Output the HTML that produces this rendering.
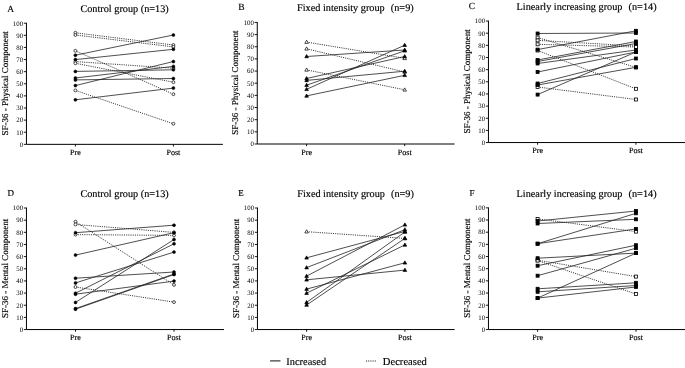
<!DOCTYPE html>
<html><head><meta charset="utf-8"><style>
html,body{margin:0;padding:0;background:#fff;width:685px;height:368px;overflow:hidden}
svg{display:block;filter:grayscale(1)}
text{font-family:"Liberation Serif", serif;fill:#000;text-rendering:geometricPrecision;stroke:#000;stroke-width:0.15px}
</style></head><body>
<svg width="685" height="368" viewBox="0 0 685 368">
<rect width="685" height="368" fill="#fff"/>
<text x="7.2" y="11.7" font-size="9.5">A</text>
<text x="124.55" y="12.1" font-size="10.25" text-anchor="middle" xml:space="preserve">Control group (n=13)</text>
<text x="0" y="0" font-size="9" text-anchor="middle" transform="translate(7.65,83.27) rotate(-90)">SF-36 - Physical Component</text>
<path d="M26.45 22.8V144.35H222.9" fill="none" stroke="#000" stroke-width="1"/>
<text x="23.05" y="146.65" font-size="6.8" text-anchor="end" style="stroke:none">0</text>
<text x="23.05" y="134.53" font-size="6.8" text-anchor="end" style="stroke:none">10</text>
<text x="23.05" y="122.42" font-size="6.8" text-anchor="end" style="stroke:none">20</text>
<text x="23.05" y="110.3" font-size="6.8" text-anchor="end" style="stroke:none">30</text>
<text x="23.05" y="98.19" font-size="6.8" text-anchor="end" style="stroke:none">40</text>
<text x="23.05" y="86.07" font-size="6.8" text-anchor="end" style="stroke:none">50</text>
<text x="23.05" y="73.96" font-size="6.8" text-anchor="end" style="stroke:none">60</text>
<text x="23.05" y="61.84" font-size="6.8" text-anchor="end" style="stroke:none">70</text>
<text x="23.05" y="49.73" font-size="6.8" text-anchor="end" style="stroke:none">80</text>
<text x="23.05" y="37.61" font-size="6.8" text-anchor="end" style="stroke:none">90</text>
<text x="23.05" y="25.5" font-size="6.8" text-anchor="end" style="stroke:none">100</text>
<path d="M23.85 144.35H26.45 M23.85 132.23H26.45 M23.85 120.12H26.45 M23.85 108H26.45 M23.85 95.89H26.45 M23.85 83.77H26.45 M23.85 71.66H26.45 M23.85 59.55H26.45 M23.85 47.43H26.45 M23.85 35.31H26.45 M23.85 23.2H26.45 M75.4 144.35V146.55 M173.4 144.35V146.55" fill="none" stroke="#000" stroke-width="0.9"/>
<text x="75.4" y="155.15" font-size="8.1" text-anchor="middle">Pre</text>
<text x="173.4" y="155.15" font-size="8.1" text-anchor="middle">Post</text>
<path d="M75.4 32.8L173.4 45 M75.4 35L173.4 46.9 M75.4 50.8L173.4 94.2 M75.4 61.6L173.4 68.2 M75.4 63.3L173.4 82.2 M75.4 90.4L173.4 123.8" fill="none" stroke="#222" stroke-width="0.9" stroke-dasharray="1.1 1.1"/>
<path d="M75.4 55.2L173.4 35 M75.4 59.6L173.4 49.3 M75.4 71.4L173.4 69.8 M75.4 78L173.4 66.4 M75.4 79.9L173.4 78.5 M75.4 85.6L173.4 61.5 M75.4 99.8L173.4 88.1" fill="none" stroke="#222" stroke-width="0.8"/>
<circle cx="75.4" cy="32.8" r="1.45" fill="#fff" stroke="#000" stroke-width="0.7"/>
<circle cx="173.4" cy="45" r="1.45" fill="#fff" stroke="#000" stroke-width="0.7"/>
<circle cx="75.4" cy="35" r="1.45" fill="#fff" stroke="#000" stroke-width="0.7"/>
<circle cx="173.4" cy="46.9" r="1.45" fill="#fff" stroke="#000" stroke-width="0.7"/>
<circle cx="75.4" cy="50.8" r="1.45" fill="#fff" stroke="#000" stroke-width="0.7"/>
<circle cx="173.4" cy="94.2" r="1.45" fill="#fff" stroke="#000" stroke-width="0.7"/>
<circle cx="75.4" cy="61.6" r="1.45" fill="#fff" stroke="#000" stroke-width="0.7"/>
<circle cx="173.4" cy="68.2" r="1.45" fill="#fff" stroke="#000" stroke-width="0.7"/>
<circle cx="75.4" cy="63.3" r="1.45" fill="#fff" stroke="#000" stroke-width="0.7"/>
<circle cx="173.4" cy="82.2" r="1.45" fill="#fff" stroke="#000" stroke-width="0.7"/>
<circle cx="75.4" cy="90.4" r="1.45" fill="#fff" stroke="#000" stroke-width="0.7"/>
<circle cx="173.4" cy="123.8" r="1.45" fill="#fff" stroke="#000" stroke-width="0.7"/>
<circle cx="75.4" cy="55.2" r="1.5" fill="#000" stroke="#000" stroke-width="0.5"/>
<circle cx="173.4" cy="35" r="1.5" fill="#000" stroke="#000" stroke-width="0.5"/>
<circle cx="75.4" cy="59.6" r="1.5" fill="#000" stroke="#000" stroke-width="0.5"/>
<circle cx="173.4" cy="49.3" r="1.5" fill="#000" stroke="#000" stroke-width="0.5"/>
<circle cx="75.4" cy="71.4" r="1.5" fill="#000" stroke="#000" stroke-width="0.5"/>
<circle cx="173.4" cy="69.8" r="1.5" fill="#000" stroke="#000" stroke-width="0.5"/>
<circle cx="75.4" cy="78" r="1.5" fill="#000" stroke="#000" stroke-width="0.5"/>
<circle cx="173.4" cy="66.4" r="1.5" fill="#000" stroke="#000" stroke-width="0.5"/>
<circle cx="75.4" cy="79.9" r="1.5" fill="#000" stroke="#000" stroke-width="0.5"/>
<circle cx="173.4" cy="78.5" r="1.5" fill="#000" stroke="#000" stroke-width="0.5"/>
<circle cx="75.4" cy="85.6" r="1.5" fill="#000" stroke="#000" stroke-width="0.5"/>
<circle cx="173.4" cy="61.5" r="1.5" fill="#000" stroke="#000" stroke-width="0.5"/>
<circle cx="75.4" cy="99.8" r="1.5" fill="#000" stroke="#000" stroke-width="0.5"/>
<circle cx="173.4" cy="88.1" r="1.5" fill="#000" stroke="#000" stroke-width="0.5"/>
<text x="238.3" y="10.2" font-size="9.5">B</text>
<text x="355.35" y="10.5" font-size="10.25" text-anchor="middle" xml:space="preserve">Fixed intensity group<tspan dx="1">  (n=9)</tspan></text>
<text x="0" y="0" font-size="9" text-anchor="middle" transform="translate(238.45,82.72) rotate(-90)">SF-36 - Physical Component</text>
<path d="M257.25 22.05V144H454.6" fill="none" stroke="#000" stroke-width="1"/>
<text x="253.85" y="146.3" font-size="6.8" text-anchor="end" style="stroke:none">0</text>
<text x="253.85" y="134.15" font-size="6.8" text-anchor="end" style="stroke:none">10</text>
<text x="253.85" y="121.99" font-size="6.8" text-anchor="end" style="stroke:none">20</text>
<text x="253.85" y="109.83" font-size="6.8" text-anchor="end" style="stroke:none">30</text>
<text x="253.85" y="97.68" font-size="6.8" text-anchor="end" style="stroke:none">40</text>
<text x="253.85" y="85.52" font-size="6.8" text-anchor="end" style="stroke:none">50</text>
<text x="253.85" y="73.37" font-size="6.8" text-anchor="end" style="stroke:none">60</text>
<text x="253.85" y="61.21" font-size="6.8" text-anchor="end" style="stroke:none">70</text>
<text x="253.85" y="49.06" font-size="6.8" text-anchor="end" style="stroke:none">80</text>
<text x="253.85" y="36.9" font-size="6.8" text-anchor="end" style="stroke:none">90</text>
<text x="253.85" y="24.75" font-size="6.8" text-anchor="end" style="stroke:none">100</text>
<path d="M254.65 144H257.25 M254.65 131.84H257.25 M254.65 119.69H257.25 M254.65 107.53H257.25 M254.65 95.38H257.25 M254.65 83.22H257.25 M254.65 71.07H257.25 M254.65 58.91H257.25 M254.65 46.76H257.25 M254.65 34.6H257.25 M254.65 22.45H257.25 M306.6 144V146.2 M404.7 144V146.2" fill="none" stroke="#000" stroke-width="0.9"/>
<text x="306.6" y="154.8" font-size="8.1" text-anchor="middle">Pre</text>
<text x="404.7" y="154.8" font-size="8.1" text-anchor="middle">Post</text>
<path d="M306.6 42.1L404.7 58.3 M306.6 48.8L404.7 72 M306.6 69.9L404.7 89.8" fill="none" stroke="#222" stroke-width="0.9" stroke-dasharray="1.1 1.1"/>
<path d="M306.6 56.5L404.7 50 M306.6 78.5L404.7 56.5 M306.6 80.4L404.7 71.2 M306.6 85.2L404.7 50.8 M306.6 89.3L404.7 45.2 M306.6 95.9L404.7 75.3" fill="none" stroke="#222" stroke-width="0.8"/>
<polygon points="306.6,40.18 304.8,43.38 308.4,43.38" fill="#fff" stroke="#000" stroke-width="0.7"/>
<polygon points="404.7,56.38 402.9,59.58 406.5,59.58" fill="#fff" stroke="#000" stroke-width="0.7"/>
<polygon points="306.6,46.88 304.8,50.08 308.4,50.08" fill="#fff" stroke="#000" stroke-width="0.7"/>
<polygon points="404.7,70.08 402.9,73.28 406.5,73.28" fill="#fff" stroke="#000" stroke-width="0.7"/>
<polygon points="306.6,67.98 304.8,71.18 308.4,71.18" fill="#fff" stroke="#000" stroke-width="0.7"/>
<polygon points="404.7,87.88 402.9,91.08 406.5,91.08" fill="#fff" stroke="#000" stroke-width="0.7"/>
<polygon points="306.6,54.58 304.8,57.78 308.4,57.78" fill="#000" stroke="#000" stroke-width="0.7"/>
<polygon points="404.7,48.08 402.9,51.28 406.5,51.28" fill="#000" stroke="#000" stroke-width="0.7"/>
<polygon points="306.6,76.58 304.8,79.78 308.4,79.78" fill="#000" stroke="#000" stroke-width="0.7"/>
<polygon points="404.7,54.58 402.9,57.78 406.5,57.78" fill="#000" stroke="#000" stroke-width="0.7"/>
<polygon points="306.6,78.48 304.8,81.68 308.4,81.68" fill="#000" stroke="#000" stroke-width="0.7"/>
<polygon points="404.7,69.28 402.9,72.48 406.5,72.48" fill="#000" stroke="#000" stroke-width="0.7"/>
<polygon points="306.6,83.28 304.8,86.48 308.4,86.48" fill="#000" stroke="#000" stroke-width="0.7"/>
<polygon points="404.7,48.88 402.9,52.08 406.5,52.08" fill="#000" stroke="#000" stroke-width="0.7"/>
<polygon points="306.6,87.38 304.8,90.58 308.4,90.58" fill="#000" stroke="#000" stroke-width="0.7"/>
<polygon points="404.7,43.28 402.9,46.48 406.5,46.48" fill="#000" stroke="#000" stroke-width="0.7"/>
<polygon points="306.6,93.98 304.8,97.18 308.4,97.18" fill="#000" stroke="#000" stroke-width="0.7"/>
<polygon points="404.7,73.38 402.9,76.58 406.5,76.58" fill="#000" stroke="#000" stroke-width="0.7"/>
<text x="468.8" y="9" font-size="9.5">C</text>
<text x="586.55" y="9.9" font-size="10.25" text-anchor="middle" xml:space="preserve">Linearly increasing group<tspan dx="1">  (n=14)</tspan></text>
<text x="0" y="0" font-size="9" text-anchor="middle" transform="translate(469.65,81.3) rotate(-90)">SF-36 - Physical Component</text>
<path d="M488.45 20.65V142.55H686" fill="none" stroke="#000" stroke-width="1"/>
<text x="485.05" y="144.85" font-size="6.8" text-anchor="end" style="stroke:none">0</text>
<text x="485.05" y="132.7" font-size="6.8" text-anchor="end" style="stroke:none">10</text>
<text x="485.05" y="120.55" font-size="6.8" text-anchor="end" style="stroke:none">20</text>
<text x="485.05" y="108.4" font-size="6.8" text-anchor="end" style="stroke:none">30</text>
<text x="485.05" y="96.25" font-size="6.8" text-anchor="end" style="stroke:none">40</text>
<text x="485.05" y="84.1" font-size="6.8" text-anchor="end" style="stroke:none">50</text>
<text x="485.05" y="71.95" font-size="6.8" text-anchor="end" style="stroke:none">60</text>
<text x="485.05" y="59.8" font-size="6.8" text-anchor="end" style="stroke:none">70</text>
<text x="485.05" y="47.65" font-size="6.8" text-anchor="end" style="stroke:none">80</text>
<text x="485.05" y="35.5" font-size="6.8" text-anchor="end" style="stroke:none">90</text>
<text x="485.05" y="23.35" font-size="6.8" text-anchor="end" style="stroke:none">100</text>
<path d="M485.85 142.55H488.45 M485.85 130.4H488.45 M485.85 118.25H488.45 M485.85 106.1H488.45 M485.85 93.95H488.45 M485.85 81.8H488.45 M485.85 69.65H488.45 M485.85 57.5H488.45 M485.85 45.35H488.45 M485.85 33.2H488.45 M485.85 21.05H488.45 M537.6 142.55V144.75 M635.9 142.55V144.75" fill="none" stroke="#000" stroke-width="0.9"/>
<text x="537.6" y="153.35" font-size="8.1" text-anchor="middle">Pre</text>
<text x="635.9" y="153.35" font-size="8.1" text-anchor="middle">Post</text>
<path d="M537.6 37.5L635.9 67.4 M537.6 40.4L635.9 46 M537.6 44.3L635.9 47 M537.6 50.5L635.9 88.8 M537.6 87L635.9 99.5" fill="none" stroke="#222" stroke-width="0.9" stroke-dasharray="1.1 1.1"/>
<path d="M537.6 33.5L635.9 33 M537.6 49.6L635.9 30.8 M537.6 60L635.9 41.5 M537.6 61.5L635.9 43.5 M537.6 63.5L635.9 50 M537.6 72L635.9 52 M537.6 83.5L635.9 58.5 M537.6 85L635.9 67.3 M537.6 94.6L635.9 52" fill="none" stroke="#222" stroke-width="0.8"/>
<rect x="536.1" y="36" width="3" height="3" fill="#fff" stroke="#000" stroke-width="0.8"/>
<rect x="634.4" y="65.9" width="3" height="3" fill="#fff" stroke="#000" stroke-width="0.8"/>
<rect x="536.1" y="38.9" width="3" height="3" fill="#fff" stroke="#000" stroke-width="0.8"/>
<rect x="634.4" y="44.5" width="3" height="3" fill="#fff" stroke="#000" stroke-width="0.8"/>
<rect x="536.1" y="42.8" width="3" height="3" fill="#fff" stroke="#000" stroke-width="0.8"/>
<rect x="634.4" y="45.5" width="3" height="3" fill="#fff" stroke="#000" stroke-width="0.8"/>
<rect x="536.1" y="49" width="3" height="3" fill="#fff" stroke="#000" stroke-width="0.8"/>
<rect x="634.4" y="87.3" width="3" height="3" fill="#fff" stroke="#000" stroke-width="0.8"/>
<rect x="536.1" y="85.5" width="3" height="3" fill="#fff" stroke="#000" stroke-width="0.8"/>
<rect x="634.4" y="98" width="3" height="3" fill="#fff" stroke="#000" stroke-width="0.8"/>
<rect x="536.1" y="32" width="3" height="3" fill="#000" stroke="#000" stroke-width="0.8"/>
<rect x="634.4" y="31.5" width="3" height="3" fill="#000" stroke="#000" stroke-width="0.8"/>
<rect x="536.1" y="48.1" width="3" height="3" fill="#000" stroke="#000" stroke-width="0.8"/>
<rect x="634.4" y="29.3" width="3" height="3" fill="#000" stroke="#000" stroke-width="0.8"/>
<rect x="536.1" y="58.5" width="3" height="3" fill="#000" stroke="#000" stroke-width="0.8"/>
<rect x="634.4" y="40" width="3" height="3" fill="#000" stroke="#000" stroke-width="0.8"/>
<rect x="536.1" y="60" width="3" height="3" fill="#000" stroke="#000" stroke-width="0.8"/>
<rect x="634.4" y="42" width="3" height="3" fill="#000" stroke="#000" stroke-width="0.8"/>
<rect x="536.1" y="62" width="3" height="3" fill="#000" stroke="#000" stroke-width="0.8"/>
<rect x="634.4" y="48.5" width="3" height="3" fill="#000" stroke="#000" stroke-width="0.8"/>
<rect x="536.1" y="70.5" width="3" height="3" fill="#000" stroke="#000" stroke-width="0.8"/>
<rect x="634.4" y="50.5" width="3" height="3" fill="#000" stroke="#000" stroke-width="0.8"/>
<rect x="536.1" y="82" width="3" height="3" fill="#000" stroke="#000" stroke-width="0.8"/>
<rect x="634.4" y="57" width="3" height="3" fill="#000" stroke="#000" stroke-width="0.8"/>
<rect x="536.1" y="83.5" width="3" height="3" fill="#000" stroke="#000" stroke-width="0.8"/>
<rect x="634.4" y="65.8" width="3" height="3" fill="#000" stroke="#000" stroke-width="0.8"/>
<rect x="536.1" y="93.1" width="3" height="3" fill="#000" stroke="#000" stroke-width="0.8"/>
<rect x="634.4" y="50.5" width="3" height="3" fill="#000" stroke="#000" stroke-width="0.8"/>
<text x="7.4" y="195.6" font-size="9">D</text>
<text x="124.55" y="196.9" font-size="10.25" text-anchor="middle" xml:space="preserve">Control group (n=13)</text>
<text x="0" y="0" font-size="9" text-anchor="middle" transform="translate(7.65,268.27) rotate(-90)">SF-36 - Mental Component</text>
<path d="M26.45 207.6V329.55H224" fill="none" stroke="#000" stroke-width="1"/>
<text x="23.05" y="331.85" font-size="6.8" text-anchor="end" style="stroke:none">0</text>
<text x="23.05" y="319.69" font-size="6.8" text-anchor="end" style="stroke:none">10</text>
<text x="23.05" y="307.54" font-size="6.8" text-anchor="end" style="stroke:none">20</text>
<text x="23.05" y="295.39" font-size="6.8" text-anchor="end" style="stroke:none">30</text>
<text x="23.05" y="283.23" font-size="6.8" text-anchor="end" style="stroke:none">40</text>
<text x="23.05" y="271.08" font-size="6.8" text-anchor="end" style="stroke:none">50</text>
<text x="23.05" y="258.92" font-size="6.8" text-anchor="end" style="stroke:none">60</text>
<text x="23.05" y="246.77" font-size="6.8" text-anchor="end" style="stroke:none">70</text>
<text x="23.05" y="234.61" font-size="6.8" text-anchor="end" style="stroke:none">80</text>
<text x="23.05" y="222.46" font-size="6.8" text-anchor="end" style="stroke:none">90</text>
<text x="23.05" y="210.3" font-size="6.8" text-anchor="end" style="stroke:none">100</text>
<path d="M23.85 329.55H26.45 M23.85 317.39H26.45 M23.85 305.24H26.45 M23.85 293.09H26.45 M23.85 280.93H26.45 M23.85 268.78H26.45 M23.85 256.62H26.45 M23.85 244.47H26.45 M23.85 232.31H26.45 M23.85 220.16H26.45 M23.85 208H26.45 M75.5 329.55V331.75 M174 329.55V331.75" fill="none" stroke="#000" stroke-width="0.9"/>
<text x="75.5" y="340.35" font-size="8.1" text-anchor="middle">Pre</text>
<text x="174" y="340.35" font-size="8.1" text-anchor="middle">Post</text>
<path d="M75.5 221.7L174 284.9 M75.5 224.5L174 232.4 M75.5 234.6L174 235.4 M75.5 287L174 302.1" fill="none" stroke="#222" stroke-width="0.9" stroke-dasharray="1.1 1.1"/>
<path d="M75.5 232.7L174 225.2 M75.5 255.1L174 232.7 M75.5 278.2L174 272 M75.5 282.9L174 252.1 M75.5 293.2L174 243.8 M75.5 294.2L174 281.1 M75.5 302.4L174 239.5 M75.5 308.6L174 274 M75.5 309.2L174 274.5" fill="none" stroke="#222" stroke-width="0.8"/>
<circle cx="75.5" cy="221.7" r="1.45" fill="#fff" stroke="#000" stroke-width="0.7"/>
<circle cx="174" cy="284.9" r="1.45" fill="#fff" stroke="#000" stroke-width="0.7"/>
<circle cx="75.5" cy="224.5" r="1.45" fill="#fff" stroke="#000" stroke-width="0.7"/>
<circle cx="174" cy="232.4" r="1.45" fill="#fff" stroke="#000" stroke-width="0.7"/>
<circle cx="75.5" cy="234.6" r="1.45" fill="#fff" stroke="#000" stroke-width="0.7"/>
<circle cx="174" cy="235.4" r="1.45" fill="#fff" stroke="#000" stroke-width="0.7"/>
<circle cx="75.5" cy="287" r="1.45" fill="#fff" stroke="#000" stroke-width="0.7"/>
<circle cx="174" cy="302.1" r="1.45" fill="#fff" stroke="#000" stroke-width="0.7"/>
<circle cx="75.5" cy="232.7" r="1.5" fill="#000" stroke="#000" stroke-width="0.5"/>
<circle cx="174" cy="225.2" r="1.5" fill="#000" stroke="#000" stroke-width="0.5"/>
<circle cx="75.5" cy="255.1" r="1.5" fill="#000" stroke="#000" stroke-width="0.5"/>
<circle cx="174" cy="232.7" r="1.5" fill="#000" stroke="#000" stroke-width="0.5"/>
<circle cx="75.5" cy="278.2" r="1.5" fill="#000" stroke="#000" stroke-width="0.5"/>
<circle cx="174" cy="272" r="1.5" fill="#000" stroke="#000" stroke-width="0.5"/>
<circle cx="75.5" cy="282.9" r="1.5" fill="#000" stroke="#000" stroke-width="0.5"/>
<circle cx="174" cy="252.1" r="1.5" fill="#000" stroke="#000" stroke-width="0.5"/>
<circle cx="75.5" cy="293.2" r="1.5" fill="#000" stroke="#000" stroke-width="0.5"/>
<circle cx="174" cy="243.8" r="1.5" fill="#000" stroke="#000" stroke-width="0.5"/>
<circle cx="75.5" cy="294.2" r="1.5" fill="#000" stroke="#000" stroke-width="0.5"/>
<circle cx="174" cy="281.1" r="1.5" fill="#000" stroke="#000" stroke-width="0.5"/>
<circle cx="75.5" cy="302.4" r="1.5" fill="#000" stroke="#000" stroke-width="0.5"/>
<circle cx="174" cy="239.5" r="1.5" fill="#000" stroke="#000" stroke-width="0.5"/>
<circle cx="75.5" cy="308.6" r="1.5" fill="#000" stroke="#000" stroke-width="0.5"/>
<circle cx="174" cy="274" r="1.5" fill="#000" stroke="#000" stroke-width="0.5"/>
<circle cx="75.5" cy="309.2" r="1.5" fill="#000" stroke="#000" stroke-width="0.5"/>
<circle cx="174" cy="274.5" r="1.5" fill="#000" stroke="#000" stroke-width="0.5"/>
<text x="238.3" y="195.6" font-size="9">E</text>
<text x="355.55" y="196.9" font-size="10.25" text-anchor="middle" xml:space="preserve">Fixed intensity group<tspan dx="1">  (n=9)</tspan></text>
<text x="0" y="0" font-size="9" text-anchor="middle" transform="translate(238.65,268.27) rotate(-90)">SF-36 - Mental Component</text>
<path d="M257.45 207.6V329.55H454.6" fill="none" stroke="#000" stroke-width="1"/>
<text x="254.05" y="331.85" font-size="6.8" text-anchor="end" style="stroke:none">0</text>
<text x="254.05" y="319.69" font-size="6.8" text-anchor="end" style="stroke:none">10</text>
<text x="254.05" y="307.54" font-size="6.8" text-anchor="end" style="stroke:none">20</text>
<text x="254.05" y="295.39" font-size="6.8" text-anchor="end" style="stroke:none">30</text>
<text x="254.05" y="283.23" font-size="6.8" text-anchor="end" style="stroke:none">40</text>
<text x="254.05" y="271.08" font-size="6.8" text-anchor="end" style="stroke:none">50</text>
<text x="254.05" y="258.92" font-size="6.8" text-anchor="end" style="stroke:none">60</text>
<text x="254.05" y="246.77" font-size="6.8" text-anchor="end" style="stroke:none">70</text>
<text x="254.05" y="234.61" font-size="6.8" text-anchor="end" style="stroke:none">80</text>
<text x="254.05" y="222.46" font-size="6.8" text-anchor="end" style="stroke:none">90</text>
<text x="254.05" y="210.3" font-size="6.8" text-anchor="end" style="stroke:none">100</text>
<path d="M254.85 329.55H257.45 M254.85 317.39H257.45 M254.85 305.24H257.45 M254.85 293.09H257.45 M254.85 280.93H257.45 M254.85 268.78H257.45 M254.85 256.62H257.45 M254.85 244.47H257.45 M254.85 232.31H257.45 M254.85 220.16H257.45 M254.85 208H257.45 M306.6 329.55V331.75 M404.9 329.55V331.75" fill="none" stroke="#000" stroke-width="0.9"/>
<text x="306.6" y="340.35" font-size="8.1" text-anchor="middle">Pre</text>
<text x="404.9" y="340.35" font-size="8.1" text-anchor="middle">Post</text>
<path d="M306.6 231.7L404.9 238.4" fill="none" stroke="#222" stroke-width="0.9" stroke-dasharray="1.1 1.1"/>
<path d="M306.6 257.8L404.9 231.4 M306.6 267.6L404.9 229.7 M306.6 276.1L404.9 224.8 M306.6 279.8L404.9 270.1 M306.6 289.1L404.9 262.8 M306.6 293.2L404.9 244.9 M306.6 302.4L404.9 232 M306.6 305L404.9 238.4" fill="none" stroke="#222" stroke-width="0.8"/>
<polygon points="306.6,229.78 304.8,232.98 308.4,232.98" fill="#fff" stroke="#000" stroke-width="0.7"/>
<polygon points="404.9,236.48 403.1,239.68 406.7,239.68" fill="#fff" stroke="#000" stroke-width="0.7"/>
<polygon points="306.6,255.88 304.8,259.08 308.4,259.08" fill="#000" stroke="#000" stroke-width="0.7"/>
<polygon points="404.9,229.48 403.1,232.68 406.7,232.68" fill="#000" stroke="#000" stroke-width="0.7"/>
<polygon points="306.6,265.68 304.8,268.88 308.4,268.88" fill="#000" stroke="#000" stroke-width="0.7"/>
<polygon points="404.9,227.78 403.1,230.98 406.7,230.98" fill="#000" stroke="#000" stroke-width="0.7"/>
<polygon points="306.6,274.18 304.8,277.38 308.4,277.38" fill="#000" stroke="#000" stroke-width="0.7"/>
<polygon points="404.9,222.88 403.1,226.08 406.7,226.08" fill="#000" stroke="#000" stroke-width="0.7"/>
<polygon points="306.6,277.88 304.8,281.08 308.4,281.08" fill="#000" stroke="#000" stroke-width="0.7"/>
<polygon points="404.9,268.18 403.1,271.38 406.7,271.38" fill="#000" stroke="#000" stroke-width="0.7"/>
<polygon points="306.6,287.18 304.8,290.38 308.4,290.38" fill="#000" stroke="#000" stroke-width="0.7"/>
<polygon points="404.9,260.88 403.1,264.08 406.7,264.08" fill="#000" stroke="#000" stroke-width="0.7"/>
<polygon points="306.6,291.28 304.8,294.48 308.4,294.48" fill="#000" stroke="#000" stroke-width="0.7"/>
<polygon points="404.9,242.98 403.1,246.18 406.7,246.18" fill="#000" stroke="#000" stroke-width="0.7"/>
<polygon points="306.6,300.48 304.8,303.68 308.4,303.68" fill="#000" stroke="#000" stroke-width="0.7"/>
<polygon points="404.9,230.08 403.1,233.28 406.7,233.28" fill="#000" stroke="#000" stroke-width="0.7"/>
<polygon points="306.6,303.08 304.8,306.28 308.4,306.28" fill="#000" stroke="#000" stroke-width="0.7"/>
<polygon points="404.9,236.48 403.1,239.68 406.7,239.68" fill="#000" stroke="#000" stroke-width="0.7"/>
<text x="469.4" y="195.7" font-size="9">F</text>
<text x="586.55" y="196.8" font-size="10.25" text-anchor="middle" xml:space="preserve">Linearly increasing group<tspan dx="1">  (n=14)</tspan></text>
<text x="0" y="0" font-size="9" text-anchor="middle" transform="translate(469.65,268.2) rotate(-90)">SF-36 - Mental Component</text>
<path d="M488.45 207.45V329.55H686" fill="none" stroke="#000" stroke-width="1"/>
<text x="485.05" y="331.85" font-size="6.8" text-anchor="end" style="stroke:none">0</text>
<text x="485.05" y="319.68" font-size="6.8" text-anchor="end" style="stroke:none">10</text>
<text x="485.05" y="307.51" font-size="6.8" text-anchor="end" style="stroke:none">20</text>
<text x="485.05" y="295.34" font-size="6.8" text-anchor="end" style="stroke:none">30</text>
<text x="485.05" y="283.17" font-size="6.8" text-anchor="end" style="stroke:none">40</text>
<text x="485.05" y="271" font-size="6.8" text-anchor="end" style="stroke:none">50</text>
<text x="485.05" y="258.83" font-size="6.8" text-anchor="end" style="stroke:none">60</text>
<text x="485.05" y="246.66" font-size="6.8" text-anchor="end" style="stroke:none">70</text>
<text x="485.05" y="234.49" font-size="6.8" text-anchor="end" style="stroke:none">80</text>
<text x="485.05" y="222.32" font-size="6.8" text-anchor="end" style="stroke:none">90</text>
<text x="485.05" y="210.15" font-size="6.8" text-anchor="end" style="stroke:none">100</text>
<path d="M485.85 329.55H488.45 M485.85 317.38H488.45 M485.85 305.21H488.45 M485.85 293.04H488.45 M485.85 280.87H488.45 M485.85 268.7H488.45 M485.85 256.53H488.45 M485.85 244.36H488.45 M485.85 232.19H488.45 M485.85 220.02H488.45 M485.85 207.85H488.45 M537.6 329.55V331.75 M636 329.55V331.75" fill="none" stroke="#000" stroke-width="0.9"/>
<text x="537.6" y="340.35" font-size="8.1" text-anchor="middle">Pre</text>
<text x="636" y="340.35" font-size="8.1" text-anchor="middle">Post</text>
<path d="M537.6 218.9L636 231.6 M537.6 260.2L636 276.6 M537.6 260.6L636 294" fill="none" stroke="#222" stroke-width="0.9" stroke-dasharray="1.1 1.1"/>
<path d="M537.6 221L636 211 M537.6 223.5L636 219.3 M537.6 243.7L636 213.3 M537.6 243.7L636 228.9 M537.6 258.2L636 253.1 M537.6 265.7L636 245.2 M537.6 275.7L636 248.2 M537.6 288.8L636 282.8 M537.6 291.8L636 285.5 M537.6 298.1L636 253.1 M537.6 298.1L636 287" fill="none" stroke="#222" stroke-width="0.8"/>
<rect x="536.1" y="217.4" width="3" height="3" fill="#fff" stroke="#000" stroke-width="0.8"/>
<rect x="634.5" y="230.1" width="3" height="3" fill="#fff" stroke="#000" stroke-width="0.8"/>
<rect x="536.1" y="258.7" width="3" height="3" fill="#fff" stroke="#000" stroke-width="0.8"/>
<rect x="634.5" y="275.1" width="3" height="3" fill="#fff" stroke="#000" stroke-width="0.8"/>
<rect x="536.1" y="259.1" width="3" height="3" fill="#fff" stroke="#000" stroke-width="0.8"/>
<rect x="634.5" y="292.5" width="3" height="3" fill="#fff" stroke="#000" stroke-width="0.8"/>
<rect x="536.1" y="219.5" width="3" height="3" fill="#000" stroke="#000" stroke-width="0.8"/>
<rect x="634.5" y="209.5" width="3" height="3" fill="#000" stroke="#000" stroke-width="0.8"/>
<rect x="536.1" y="222" width="3" height="3" fill="#000" stroke="#000" stroke-width="0.8"/>
<rect x="634.5" y="217.8" width="3" height="3" fill="#000" stroke="#000" stroke-width="0.8"/>
<rect x="536.1" y="242.2" width="3" height="3" fill="#000" stroke="#000" stroke-width="0.8"/>
<rect x="634.5" y="211.8" width="3" height="3" fill="#000" stroke="#000" stroke-width="0.8"/>
<rect x="536.1" y="242.2" width="3" height="3" fill="#000" stroke="#000" stroke-width="0.8"/>
<rect x="634.5" y="227.4" width="3" height="3" fill="#000" stroke="#000" stroke-width="0.8"/>
<rect x="536.1" y="256.7" width="3" height="3" fill="#000" stroke="#000" stroke-width="0.8"/>
<rect x="634.5" y="251.6" width="3" height="3" fill="#000" stroke="#000" stroke-width="0.8"/>
<rect x="536.1" y="264.2" width="3" height="3" fill="#000" stroke="#000" stroke-width="0.8"/>
<rect x="634.5" y="243.7" width="3" height="3" fill="#000" stroke="#000" stroke-width="0.8"/>
<rect x="536.1" y="274.2" width="3" height="3" fill="#000" stroke="#000" stroke-width="0.8"/>
<rect x="634.5" y="246.7" width="3" height="3" fill="#000" stroke="#000" stroke-width="0.8"/>
<rect x="536.1" y="287.3" width="3" height="3" fill="#000" stroke="#000" stroke-width="0.8"/>
<rect x="634.5" y="281.3" width="3" height="3" fill="#000" stroke="#000" stroke-width="0.8"/>
<rect x="536.1" y="290.3" width="3" height="3" fill="#000" stroke="#000" stroke-width="0.8"/>
<rect x="634.5" y="284" width="3" height="3" fill="#000" stroke="#000" stroke-width="0.8"/>
<rect x="536.1" y="296.6" width="3" height="3" fill="#000" stroke="#000" stroke-width="0.8"/>
<rect x="634.5" y="251.6" width="3" height="3" fill="#000" stroke="#000" stroke-width="0.8"/>
<rect x="536.1" y="296.6" width="3" height="3" fill="#000" stroke="#000" stroke-width="0.8"/>
<rect x="634.5" y="285.5" width="3" height="3" fill="#000" stroke="#000" stroke-width="0.8"/>
<path d="M270.1 360.9H280.5" stroke="#222" stroke-width="1.1"/>
<text x="286.3" y="364.8" font-size="10.4">Increased</text>
<path d="M366 361H377" stroke="#222" stroke-width="1" stroke-dasharray="1.1 1.1"/>
<text x="382.8" y="364.8" font-size="10.6">Decreased</text>
</svg>
</body></html>
